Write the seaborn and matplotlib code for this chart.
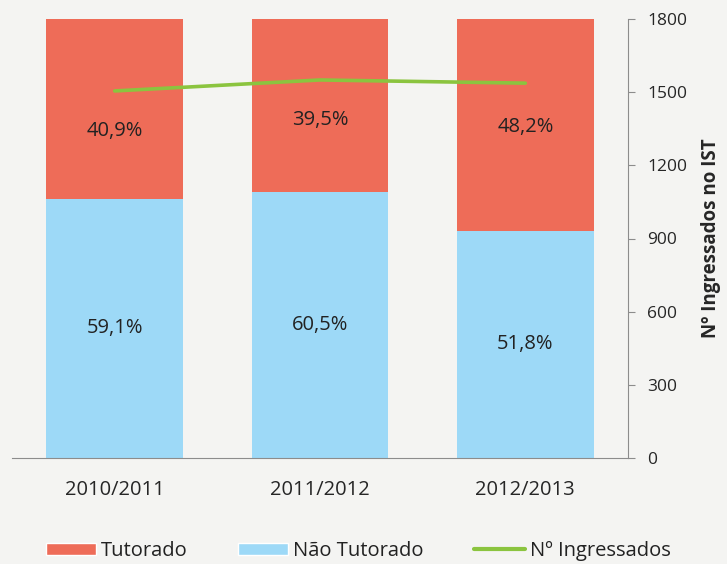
import numpy as np
import pandas as pd
import seaborn as sns
import matplotlib.pyplot as plt
from matplotlib.patches import Patch
from matplotlib.lines import Line2D

# data
years = ['2010/2011', '2011/2012', '2012/2013']
tutorado = [40.9, 39.5, 48.2]
nao_tutorado = [59.1, 60.5, 51.8]
ingressados = [1505, 1550, 1537]

bg = '#F4F4F2'
red = '#EE6C58'
blue = '#9DD9F7'
green = '#8BC43F'
grey = '#8C8C8C'

sns.set_style('white')
plt.rcParams['font.family'] = ['Open Sans', 'DejaVu Sans']
plt.rcParams['text.color'] = '#222222'

df = pd.DataFrame({'ano': years, 'tut': tutorado, 'nao': nao_tutorado})
df['total'] = df['tut'] + df['nao']

fig = plt.figure(figsize=(7.27, 5.64), dpi=100, facecolor=bg)
ax = fig.add_axes([12 / 727, 1 - 458 / 564, 616 / 727, 439 / 564])
ax.set_facecolor(bg)

sns.barplot(data=df, x='ano', y='total', color=red, saturation=1, width=0.665,
            linewidth=0, ax=ax)
sns.barplot(data=df, x='ano', y='nao', color=blue, saturation=1, width=0.665,
            linewidth=0, ax=ax)
ax.set_ylim(0, 100)
ax.set_xlim(-0.5, 2.5)
ax.set_xlabel('')
ax.set_ylabel('')
ax.set_yticks([])

# percentage labels
tut_label_y = [74.5, 77.0, 75.4]
for i, row in df.iterrows():
    ax.text(i, row['nao'] / 2, f"{row['nao']:.1f}%".replace('.', ','),
            ha='center', va='center', fontsize=14.5)
    ax.text(i, tut_label_y[i], f"{row['tut']:.1f}%".replace('.', ','),
            ha='center', va='center', fontsize=14.5)

for s in ['top', 'left', 'right']:
    ax.spines[s].set_visible(False)
ax.spines['bottom'].set_color(grey)
ax.set_xticks(range(len(years)))
ax.set_xticklabels(years, fontsize=14.5)
ax.set_xticks([-0.5, 0.5, 1.5, 2.5], minor=True)
ax.tick_params(axis='x', which='major', length=0, pad=16)
ax.tick_params(axis='x', which='minor', length=6, color=grey, direction='out')

ax2 = ax.twinx()
sns.lineplot(x=np.arange(len(years)), y=ingressados, color=green, linewidth=2.6, ax=ax2)
ax2.set_ylim(0, 1800)
ax2.set_yticks(range(0, 1801, 300))
ax2.tick_params(axis='y', labelsize=12.5, length=5, color=grey, direction='out', pad=9)
for s in ['top', 'left', 'bottom']:
    ax2.spines[s].set_visible(False)
ax2.spines['right'].set_color(grey)
ax2.set_ylabel('Nº Ingressados no IST', fontsize=13.5, fontweight='bold', labelpad=10)

handles = [Patch(facecolor=red, label='Tutorado'),
           Patch(facecolor=blue, label='Não Tutorado'),
           Line2D([0], [0], color=green, lw=3, label='Nº Ingressados')]
fig.legend(handles=handles, loc='center', bbox_to_anchor=(0.4925, 0.023), ncol=3,
           frameon=False, fontsize=14.5, handlelength=2.5, handleheight=0.6,
           handletextpad=0.25, columnspacing=2.5)

fig.savefig('out.png', dpi=100, facecolor=bg)
